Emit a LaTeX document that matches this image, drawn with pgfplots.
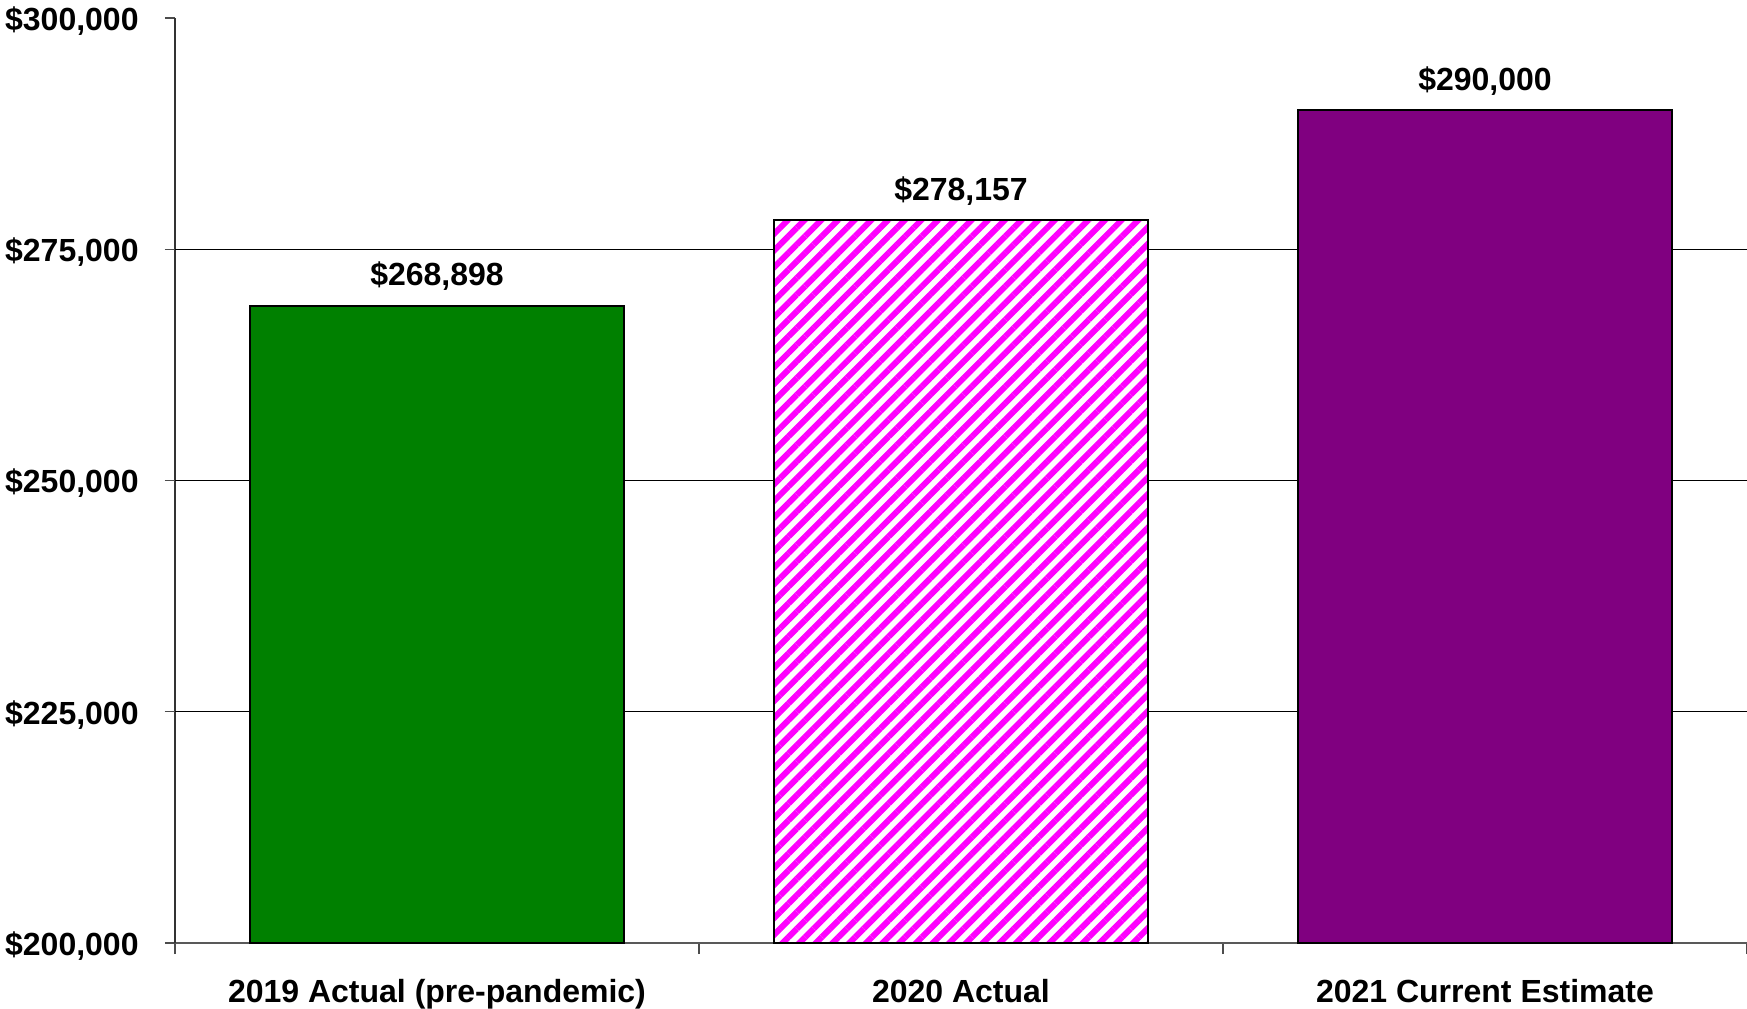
\documentclass[border=0pt]{standalone}
\usepackage{pgfplots}
\pgfplotsset{compat=1.18}
\usepackage{fontspec}
\setmainfont{Liberation Sans}
\usetikzlibrary{patterns.meta}
\definecolor{cgreen}{HTML}{008000}
\definecolor{cpurple}{HTML}{800080}
\definecolor{cmagenta}{HTML}{FF00FF}
\newcommand{\lblfont}{\bfseries\fontsize{16}{19.2}\selectfont}
\begin{document}
\begin{tikzpicture}
\begin{axis}[
  scale only axis, width=786pt, height=462.5pt,
  xmin=-0.5, xmax=2.5, ymin=200000, ymax=300000,
  axis x line*=bottom, axis y line*=left,
  axis line style={-},
  x axis line style={gray!70!black, line width=1pt},
  y axis line style={black!80, line width=0.6pt},
  ytick={200000,225000,250000,275000,300000},
  yticklabels={{\$200,000},{\$225,000},{\$250,000},{\$275,000},{\$300,000}},
  extra y ticks={225000,250000,275000},
  extra y tick labels={},
  extra y tick style={grid=major, major grid style={black, line width=0.55pt}},
  xtick={0,1,2},
  xticklabels={2019 Actual (pre-pandemic), 2020 Actual, 2021 Current Estimate},
  major x tick style={draw=none},
  minor xtick={-0.5,0.5,1.5,2.5},
  tick align=outside, major tick length=5pt, minor tick length=5.5pt,
  tick style={gray!60!black, line width=0.6pt},
  tick label style={font=\lblfont},
  yticklabel style={anchor=east, inner sep=0pt, xshift=-13pt, yshift=-1.5pt},
  xticklabel style={anchor=base, inner sep=0pt, yshift=-24.5pt},
  ybar, bar width=187pt, bar shift=0pt,
  point meta=explicit symbolic,
  nodes near coords,
  every node near coord/.append style={font=\lblfont, anchor=base, inner sep=0pt, yshift=10pt, text=black},
]
\addplot[fill=cgreen, draw=black, line width=1pt] coordinates {(0,268898) [\$268,898]};
\addplot[preaction={fill=white}, pattern={Lines[angle=45,distance=5.9pt,line width=3pt]}, pattern color=cmagenta, draw=black, line width=1pt] coordinates {(1,278157) [\$278,157]};
\addplot[fill=cpurple, draw=black, line width=1pt] coordinates {(2,290000) [\$290,000]};
\end{axis}
\pgfresetboundingbox
\useasboundingbox (-87.5pt,-32.5pt) rectangle (786pt,471.5pt);
\end{tikzpicture}
\end{document}
